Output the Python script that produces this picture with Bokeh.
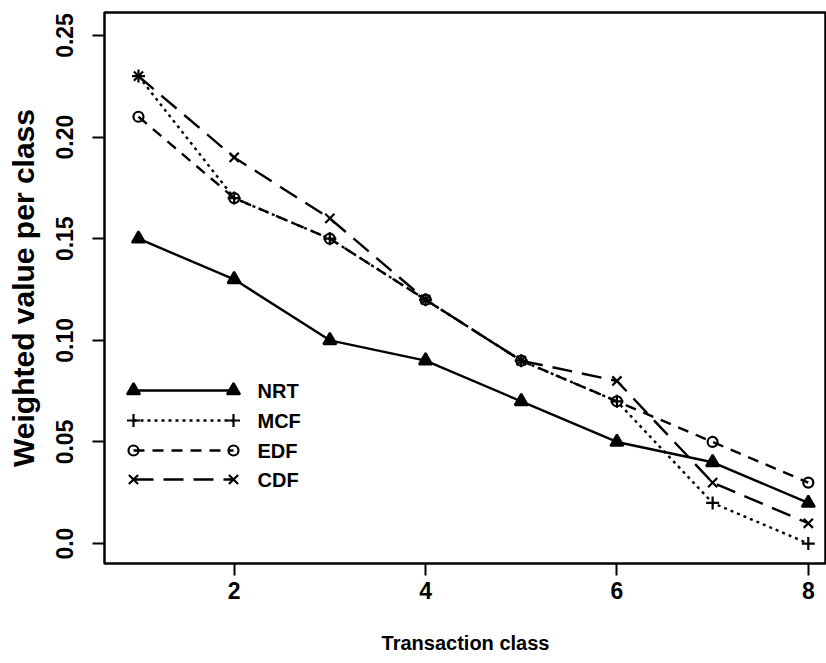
from bokeh.plotting import figure
from bokeh.models import Range1d, FixedTicker, LinearAxis
from bokeh.core.properties import value
from bokeh.embed import file_html
from bokeh.resources import INLINE

# Weighted value per transaction class for four scheduling policies
classes = [1, 2, 3, 4, 5, 6, 7, 8]
nrt = [0.15, 0.13, 0.10, 0.09, 0.07, 0.05, 0.04, 0.02]
mcf = [0.23, 0.17, 0.15, 0.12, 0.09, 0.07, 0.02, 0.00]
edf = [0.21, 0.17, 0.15, 0.12, 0.09, 0.07, 0.05, 0.03]
cdf = [0.23, 0.19, 0.16, 0.12, 0.09, 0.08, 0.03, 0.01]

series_names = ["NRT", "MCF", "EDF", "CDF"]
x_ticks = [2, 4, 6, 8]
y_ticks = [0.0, 0.05, 0.10, 0.15, 0.20, 0.25]
y_tick_labels = ["0.0", "0.05", "0.10", "0.15", "0.20", "0.25"]

W, H = 826, 663
LEFT, RIGHT, TOP, BOTTOM = 104, 0, 12, 100
X0, X1 = 0.645, 8.19
Y0, Y1 = -0.0098, 0.2613

SANS = "Liberation Sans"

p = figure(width=W, height=H, x_range=Range1d(X0, X1), y_range=Range1d(Y0, Y1),
           output_backend="svg", toolbar_location=None,
           min_border_left=LEFT, min_border_right=RIGHT,
           min_border_top=TOP, min_border_bottom=BOTTOM)
p.grid.visible = False
p.outline_line_color = "black"
p.outline_line_width = 2.5
p.background_fill_color = "white"
p.border_fill_color = "white"

for ax in (p.xaxis[0], p.yaxis[0]):
    ax.axis_line_color = None
    ax.major_tick_in = 0
    ax.major_tick_out = 12
    ax.major_tick_line_width = 2
    ax.major_tick_line_color = "black"
    ax.minor_tick_line_color = None
    ax.major_label_text_font = SANS
    ax.major_label_text_font_style = "bold"
    ax.major_label_text_font_size = "23px"
    ax.major_label_text_color = "black"
    ax.axis_label_text_font = SANS
    ax.axis_label_text_font_style = "bold"
    ax.axis_label_text_color = "black"

p.xaxis.ticker = FixedTicker(ticks=x_ticks)
p.xaxis.major_label_standoff = 6

p.yaxis.ticker = FixedTicker(ticks=y_ticks)
p.yaxis.major_label_overrides = {t: s for t, s in zip(y_ticks, y_tick_labels)}
p.yaxis.major_label_orientation = "parallel"
p.yaxis.major_label_standoff = 19
p.yaxis.axis_label = "Weighted value per class"
p.yaxis.axis_label_text_font_size = "30px"
p.yaxis.axis_label_standoff = 14

frame_w = W - LEFT - RIGHT
frame_h = H - TOP - BOTTOM

def px_x(px):
    return X0 + (px - LEFT) * (X1 - X0) / frame_w

def px_y(py):
    return Y1 - (py - TOP) * (Y1 - Y0) / frame_h

# x axis title on its own tickless axis below the tick labels
title_axis = LinearAxis(ticker=FixedTicker(ticks=[]),
                        axis_line_color=None, major_tick_out=0, major_tick_in=0,
                        minor_tick_out=0, minor_tick_in=0,
                        major_label_standoff=0,
                        axis_label="Transaction class", axis_label_standoff=30,
                        axis_label_text_align="right",
                        axis_label_text_font=SANS, axis_label_text_font_style="bold",
                        axis_label_text_font_size="20px", axis_label_text_color="black")
p.add_layout(title_axis, "below")

styles = {
    "NRT": dict(data=nrt, dash="solid", marker="triangle", size=13, fill="black"),
    "MCF": dict(data=mcf, dash="3 4", marker="cross", size=13, fill=None),
    "EDF": dict(data=edf, dash="11 8", marker="circle", size=10, fill=None),
    "CDF": dict(data=cdf, dash="20 10", marker="x", size=13, fill=None),
}

for name in series_names:
    s = styles[name]
    p.line(classes, s["data"], line_color="black", line_width=2.4, line_dash=s["dash"])
    p.scatter(classes, s["data"], marker=s["marker"], size=s["size"],
              line_color="black", line_width=2.2, fill_color=s["fill"])

# Key in the lower left corner, placed in screen pixels and mapped to data units
key_rows = [390, 420, 450, 479]
kx0, kx1, ktext = px_x(133), px_x(233), px_x(257)
for name, row in zip(series_names, key_rows):
    s = styles[name]
    ky = px_y(row)
    p.line([kx0, kx1], [ky, ky], line_color="black", line_width=2.4, line_dash=s["dash"])
    p.scatter([kx0, kx1], [ky, ky], marker=s["marker"], size=s["size"],
              line_color="black", line_width=2.2, fill_color=s["fill"])
    p.text([ktext], [ky], text=[name], text_font=value(SANS), text_font_style="bold",
           text_font_size="20px", text_baseline="middle", text_align="left",
           text_color="black")

open("out.html", "w").write(file_html(p, INLINE))
